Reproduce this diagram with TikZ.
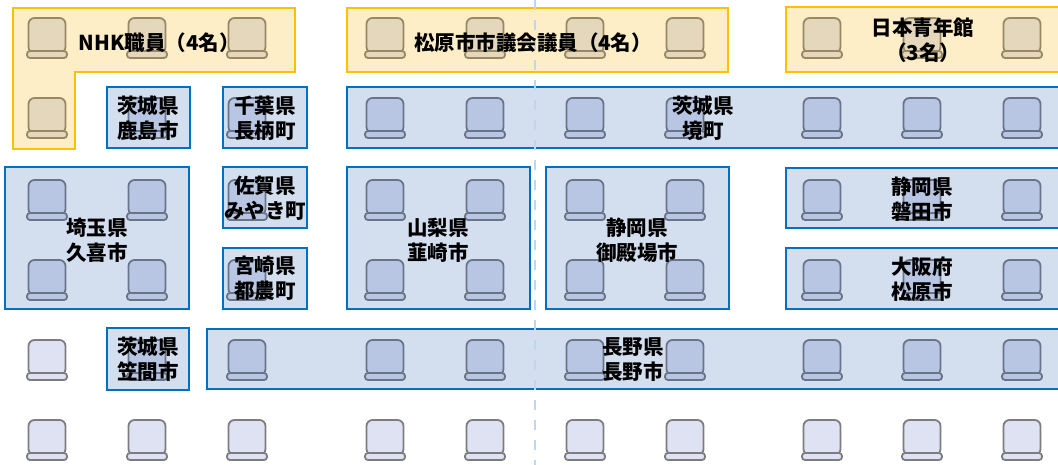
\documentclass[tikz,border=0pt]{standalone}
\usepackage{fontspec}
\usepackage{xcolor}
\newfontfamily\jpfont{Noto Sans CJK JP}
\definecolor{seatfill}{RGB}{222,226,242}
\definecolor{seatline}{RGB}{125,125,128}
\definecolor{boxblue}{RGB}{0,112,192}
\definecolor{tintblue}{RGB}{23,81,171}
\definecolor{boxyellow}{RGB}{255,192,0}
\definecolor{tintyellow}{RGB}{250,176,0}
\definecolor{aisle}{RGB}{189,215,238}
\tikzset{
    seat/.pic={
        \draw[seatline, fill=seatfill, line width=1.8pt, rounded corners=6pt]
            (-18.5,-20) rectangle (18.5,15);
        \draw[seatline, fill=seatfill, line width=1.8pt, rounded corners=3pt]
            (-20,13) rectangle (20,20);
    },
    bluebox/.style={draw=boxblue, line width=2.7pt, fill=tintblue, fill opacity=0.19},
    yellowbox/.style={draw=boxyellow, line width=2.7pt, fill=tintyellow, fill opacity=0.22},
    grouptext/.style={align=center, inner sep=0pt, font=\jpfont\bfseries\fontsize{20.5}{25}\selectfont}
}
\begin{document}
\begin{tikzpicture}[x=1pt, y=-1pt]
    \useasboundingbox (0,0) rectangle (1058,465);

    % Seats
    \foreach \y in {38,118,200,280,360,440} {
        \foreach \x in {47,147,247,385,485,585,685,822,922,1022} {
            \pic at (\x,\y) {seat};
        }
    }

    % Guest groups
    \draw[yellowbox] (13,8) -- (295,8) -- (295,72) -- (75,72) -- (75,149) -- (13,149) -- cycle;
    \draw[yellowbox] (347,8) rectangle (728,72);
    \draw[yellowbox] (786,7) rectangle (1064,72);

    \draw[bluebox] (107,87) rectangle (190,148);
    \draw[bluebox] (223,87) rectangle (307,148);
    \draw[bluebox] (347,87) rectangle (1064,148);
    \draw[bluebox] (5,167) rectangle (189,309);
    \draw[bluebox] (223,167) rectangle (307,228);
    \draw[bluebox] (223,248) rectangle (307,309);
    \draw[bluebox] (347,167) rectangle (530,309);
    \draw[bluebox] (546,167) rectangle (729,309);
    \draw[bluebox] (786,168) rectangle (1064,228);
    \draw[bluebox] (786,248) rectangle (1064,309);
    \draw[bluebox] (107,328) rectangle (189,390);
    \draw[bluebox] (207,329) rectangle (1064,389);

    % Centre aisle
    \draw[aisle, line width=2.5pt, dash pattern=on 10pt off 10pt] (535,0) -- (535,465);

    % Names
    \node[grouptext] (nhk) at (159,43) {NHK職員（4名）};
    \node[grouptext] (giin) at (533,43) {松原市市議会議員（4名）};
    \node[grouptext] (seinen) at (923,40) {日本青年館\\（3名）};
    \node[grouptext] (kashima) at (148,118) {茨城県\\鹿島市};
    \node[grouptext] (nagara) at (265,118) {千葉県\\長柄町};
    \node[grouptext] (sakai) at (703,118) {茨城県\\境町};
    \node[grouptext] (kuki) at (97,240) {埼玉県\\久喜市};
    \node[grouptext] (miyaki) at (265,198) {佐賀県\\みやき町};
    \node[grouptext] (tsuno) at (265,278) {宮崎県\\都農町};
    \node[grouptext] (nirasaki) at (438,240) {山梨県\\韮崎市};
    \node[grouptext] (gotemba) at (637,240) {静岡県\\御殿場市};
    \node[grouptext] (iwata) at (922,199) {静岡県\\磐田市};
    \node[grouptext] (matsubara) at (922,279) {大阪府\\松原市};
    \node[grouptext] (kasama) at (148,359) {茨城県\\笠間市};
    \node[grouptext] (nagano) at (633,360) {長野県\\長野市};
\end{tikzpicture}
\end{document}
